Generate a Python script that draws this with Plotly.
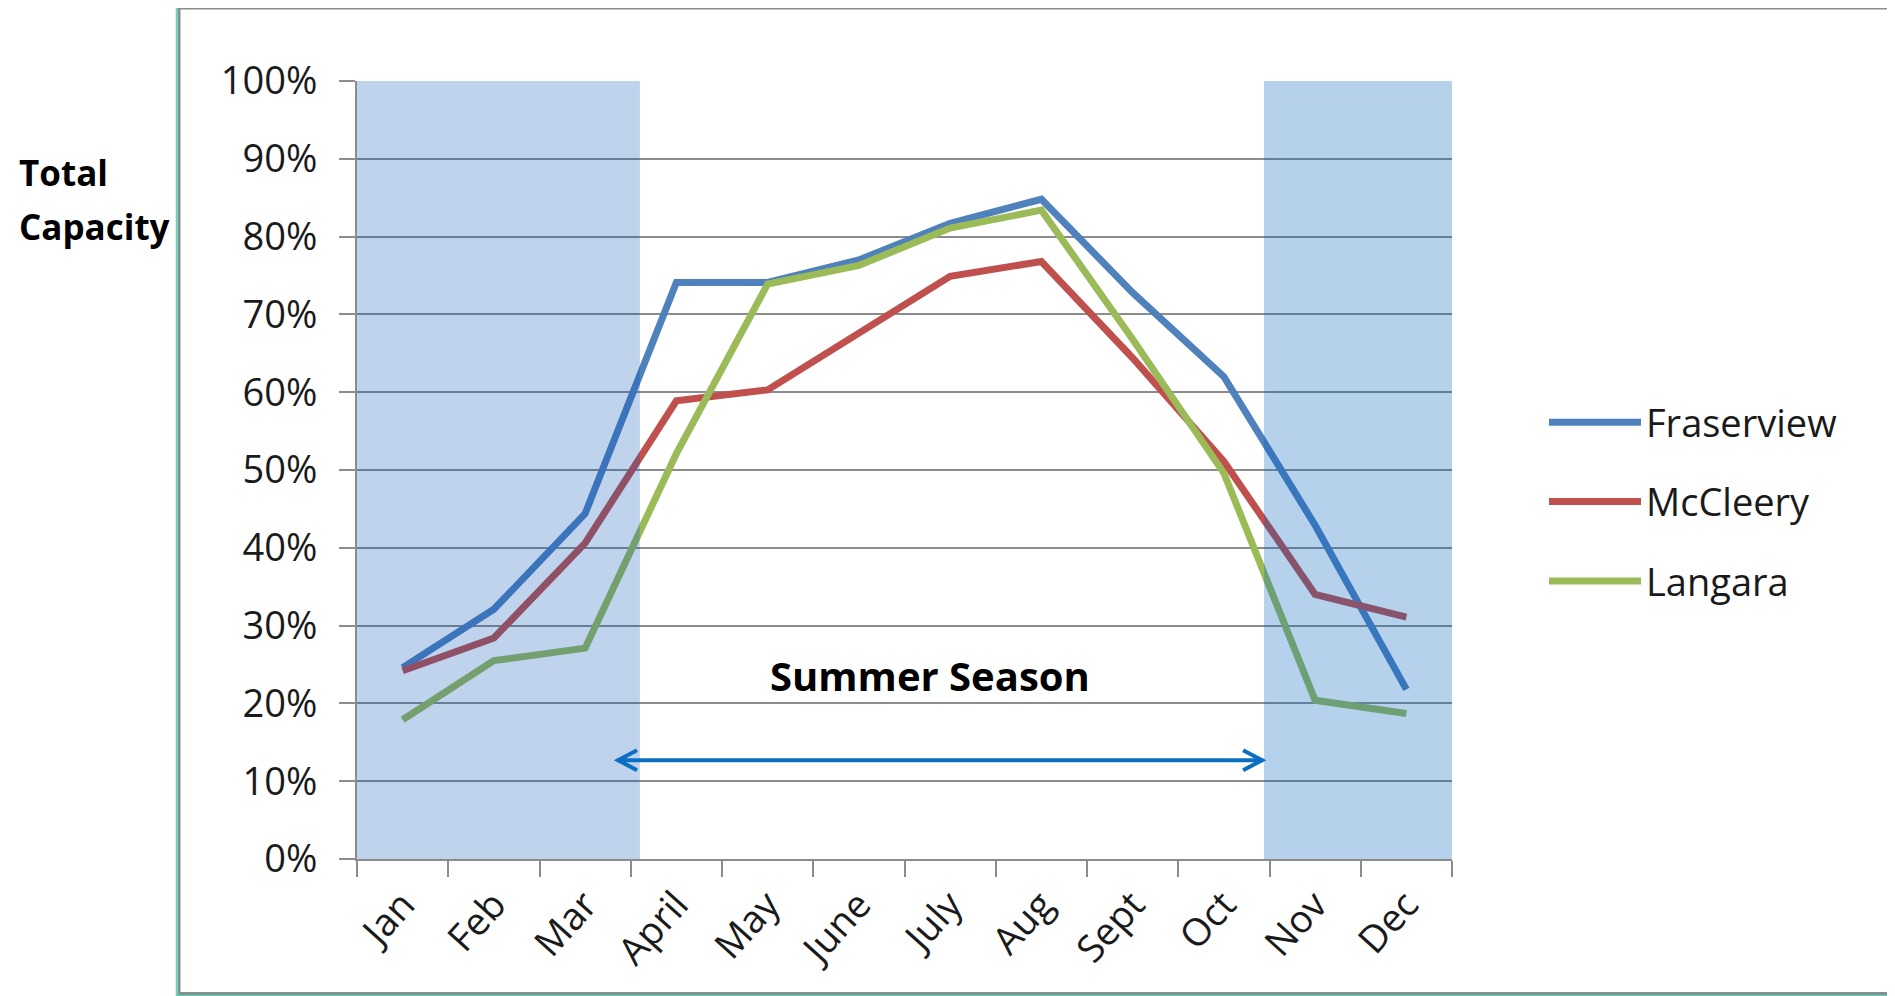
import plotly.graph_objects as go

# ---- data ----
months = ["Jan", "Feb", "Mar", "April", "May", "June", "July", "Aug", "Sept", "Oct", "Nov", "Dec"]
fraserview = [24.6, 32.1, 44.4, 74.1, 74.1, 77.0, 81.7, 84.8, 72.8, 62.0, 42.9, 21.8]
mccleery = [24.2, 28.4, 40.6, 58.9, 60.3, 67.7, 74.9, 76.8, 64.4, 51.1, 34.0, 31.1]
langara = [17.9, 25.5, 27.1, 52.1, 73.9, 76.3, 81.1, 83.4, 66.8, 49.6, 20.4, 18.7]
y_ticks = list(range(0, 101, 10))
y_tick_labels = [f"{v}%" for v in y_ticks]

# off-season shading spans (category index units) and summer arrow
winter_early = (-0.56, 2.60)
winter_late = (9.44, 11.56)
summer_arrow = (2.35, 9.43, 12.7)
summer_label = (5.78, 23.6)

W, H = 1895, 996
OFF = 8  # page body offset
# plot area in screen pixels: x 357..1452, y 81..859
SX0, SX1, SY0, SY1 = 357, 1452, 81, 859
L, R, T, B = SX0 - OFF, W - (SX1 - OFF), SY0 - OFF, H - (SY1 - OFF)
PW, PH = SX1 - SX0, SY1 - SY0


def px_x(p):
    return (p - SX0) / PW


def px_y(p):
    return (SY1 - p) / PH


FONT = "Open Sans"
colors = {"Fraserview": "#4F81BD", "McCleery": "#C0504D", "Langara": "#9BBB59"}

fig = go.Figure()
for i, (name, vals) in enumerate([("Fraserview", fraserview), ("McCleery", mccleery), ("Langara", langara)]):
    fig.add_trace(go.Scatter(
        x=months, y=vals, mode="lines", name=name, legendgroup=name,
        line=dict(color=colors[name], width=7),
    ))

shapes = []
# shaded off-season regions (drawn above lines, semi-transparent)
shapes.append(dict(type="rect", xref="x", yref="y", x0=winter_early[0], x1=winter_early[1], y0=0, y1=100,
                   fillcolor="rgba(0,80,180,0.25)", line=dict(width=0), layer="above"))
shapes.append(dict(type="rect", xref="x", yref="y", x0=winter_late[0], x1=winter_late[1], y0=0, y1=100,
                   fillcolor="rgba(0,95,190,0.29)", line=dict(width=0), layer="above"))
# arrow shaft
ax0, ax1, ay = summer_arrow
arrow_col = "#0A6FC2"
shapes.append(dict(type="line", xref="x", yref="y", x0=ax0, x1=ax1, y0=ay, y1=ay,
                   line=dict(color=arrow_col, width=4), layer="above"))
# chevron heads (pixel sized)
shapes.append(dict(type="path", xref="x", yref="y", xsizemode="pixel", ysizemode="pixel",
                   xanchor=ax0, yanchor=ay, path="M 20,10 L 1,0 L 20,-10",
                   line=dict(color=arrow_col, width=4), layer="above"))
shapes.append(dict(type="path", xref="x", yref="y", xsizemode="pixel", ysizemode="pixel",
                   xanchor=ax1, yanchor=ay, path="M -20,10 L -1,0 L -20,-10",
                   line=dict(color=arrow_col, width=4), layer="above"))
# outer frame
shapes.append(dict(type="rect", xref="paper", yref="paper",
                   x0=px_x(176.5), x1=px_x(1960), y0=px_y(995.5), y1=px_y(5.5),
                   line=dict(color="#3FE3C4", width=1.5), layer="below"))
shapes.append(dict(type="rect", xref="paper", yref="paper",
                   x0=px_x(179), x1=px_x(1960), y0=px_y(993.5), y1=px_y(8),
                   line=dict(color="#8C8C8C", width=3), layer="below"))

annotations = [
    dict(text="Summer Season", x=summer_label[0], y=summer_label[1], xref="x", yref="y",
         showarrow=False, font=dict(family=FONT, size=40, color="#000000", weight="bold")),
    dict(text="Total", x=px_x(17), y=px_y(173), xref="paper", yref="paper", xanchor="left", yanchor="middle",
         showarrow=False, font=dict(family=FONT, size=35, color="#000000", weight="bold")),
    dict(text="Capacity", x=px_x(17), y=px_y(227), xref="paper", yref="paper", xanchor="left", yanchor="middle",
         showarrow=False, font=dict(family=FONT, size=35, color="#000000", weight="bold")),
]

fig.update_layout(
    width=W, height=H,
    margin=dict(l=L, r=R, t=T, b=B, pad=0, autoexpand=False),
    paper_bgcolor="white", plot_bgcolor="white",
    font=dict(family=FONT, size=38, color="#1a1a1a"),
    shapes=shapes, annotations=annotations,
    showlegend=True,
    legend=dict(x=px_x(1544), y=px_y(391), xanchor="left", yanchor="top",
                font=dict(family=FONT, size=38, color="#1a1a1a"),
                itemwidth=92, tracegroupgap=27, bgcolor="rgba(0,0,0,0)"),
)
fig.update_xaxes(
    type="category", categoryorder="array", categoryarray=months, automargin=False,
    range=[-0.5, 11.5], tickson="boundaries", ticks="outside", ticklen=16, tickwidth=2,
    tickcolor="#8C8C8C", showline=True, linecolor="#8C8C8C", linewidth=2, showgrid=False,
    tickangle=-48, ticklabelstandoff=6, tickfont=dict(family=FONT, size=38, color="#1a1a1a"), zeroline=False,
)
fig.update_yaxes(
    range=[0, 100], tickvals=y_ticks, ticktext=y_tick_labels, ticks="outside", ticklen=16, tickwidth=2,
    tickcolor="#8C8C8C", showline=True, linecolor="#8C8C8C", linewidth=2, automargin=False,
    showgrid=True, gridcolor="#8C8C8C", gridwidth=2, zeroline=False,
    ticklabelstandoff=14, tickfont=dict(family=FONT, size=38, color="#1a1a1a"),
)

fig.write_html("out.html")
